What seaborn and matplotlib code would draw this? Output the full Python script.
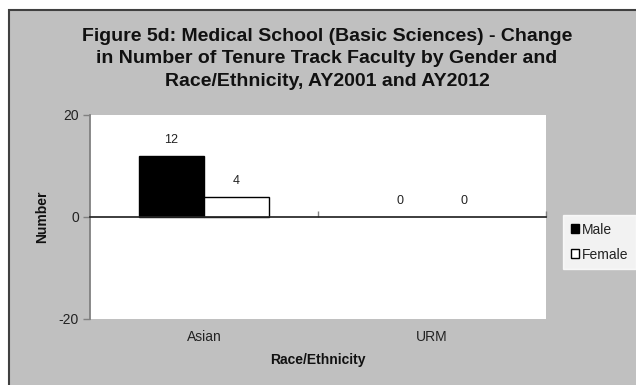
import matplotlib
matplotlib.use("Agg")
import matplotlib.pyplot as plt
from matplotlib.patches import Rectangle, Patch
import seaborn as sns
import pandas as pd

# Change in tenure-track faculty counts, AY2001 -> AY2012
categories = ["Asian", "URM"]
male_change = [12, 0]
female_change = [4, 0]
y_ticks = [-20, 0, 20]

df = pd.DataFrame({
    "Race/Ethnicity": categories * 2,
    "Gender": ["Male"] * len(categories) + ["Female"] * len(categories),
    "Number": male_change + female_change,
})

sns.set_theme(style="white")
plt.rcParams["font.family"] = ["Liberation Sans", "DejaVu Sans"]

W, H = 636, 385
fig = plt.figure(figsize=(W / 100, H / 100), dpi=100, facecolor="white")

# grey chart area with dark frame, kept behind the axes
fig.patches.append(Rectangle((8.5 / W, -0.1), 1.2, (H - 10) / H + 0.1,
                             transform=fig.transFigure, facecolor="#c0c0c0",
                             edgecolor="#404040", linewidth=1.5, zorder=-5))

ax = fig.add_axes([90 / W, (H - 319) / H, 456 / W, 204 / H])
ax.set_zorder(1)
ax.set_facecolor("white")

sns.barplot(data=df, x="Race/Ethnicity", y="Number", hue="Gender",
            palette={"Male": "black", "Female": "white"},
            hue_order=["Male", "Female"], width=0.57, edgecolor="black",
            linewidth=1.0, legend=False, ax=ax, zorder=3)

# zero-height bars leave no outline on the axis line
for p in ax.patches:
    if p.get_height() == 0:
        p.set_linewidth(0)

for cont in ax.containers:
    ax.bar_label(cont, fmt="%d", padding=7, fontsize=9, color="#222222")

ax.set_ylim(-20, 20)
ax.set_xlim(-0.5, 1.5)
ax.set_yticks(y_ticks)
ax.set_yticklabels([str(v) for v in y_ticks])

for side in ["top", "right", "bottom"]:
    ax.spines[side].set_visible(False)
ax.spines["left"].set_color("#808080")
ax.spines["left"].set_linewidth(1.3)

ax.tick_params(axis="y", which="major", left=True, direction="out", length=5,
               width=1, color="#808080", labelsize=10, labelcolor="#222222", pad=3)
ax.tick_params(axis="x", which="major", bottom=False, length=0, labelsize=10,
               labelcolor="#222222", pad=8)

# category axis drawn through zero with boundary ticks
zero_axis = ax.secondary_xaxis(0.5)
zero_axis.set_zorder(5)
zero_axis.spines["bottom"].set_color("#808080")
zero_axis.spines["bottom"].set_linewidth(1.8)
zero_axis.set_xticks([0.5, 1.5])
zero_axis.set_xticklabels([])
zero_axis.tick_params(axis="x", direction="out", length=4, width=1, color="#808080")

ax.set_xlabel("Race/Ethnicity", fontsize=10, fontweight="bold", color="#111111")
ax.xaxis.set_label_coords(0.5, -0.165)
ax.set_ylabel("Number", fontsize=10, fontweight="bold", color="#111111")
ax.yaxis.set_label_coords(-0.09, 0.5)

fig.text(327 / W, 1 - 28 / H,
         "Figure 5d: Medical School (Basic Sciences) - Change\n"
         "in Number of Tenure Track Faculty by Gender and\n"
         "Race/Ethnicity, AY2001 and AY2012",
         ha="center", va="top", fontsize=14, fontweight="bold",
         color="#111111", linespacing=1.42)

handles = [Patch(facecolor="black", edgecolor="black", label="Male"),
           Patch(facecolor="white", edgecolor="black", label="Female")]
leg = fig.legend(handles=handles, loc="upper left",
                 bbox_to_anchor=(563 / W, 1 - 215 / H), frameon=True,
                 fontsize=10, handlelength=0.6, handleheight=0.6,
                 handletextpad=0.2, labelspacing=0.8, borderpad=0.55,
                 borderaxespad=0, fancybox=False)
leg.get_frame().set_facecolor("white")
leg.get_frame().set_edgecolor("white")
for t in leg.get_texts():
    t.set_color("#222222")

fig.savefig("out.png", dpi=100, facecolor=fig.get_facecolor())
